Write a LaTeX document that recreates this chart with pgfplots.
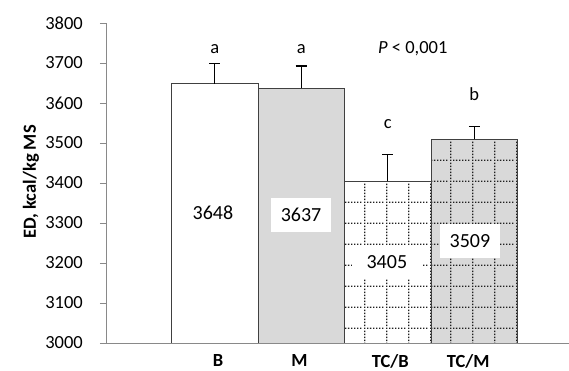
\documentclass[border=0pt]{standalone}
\usepackage{pgfplots}
\pgfplotsset{compat=1.18}
\usepackage{fontspec}
\setmainfont{Carlito}
\usetikzlibrary{patterns}
\definecolor{axisgray}{HTML}{898989}
\definecolor{barfill}{HTML}{D9D9D9}
\definecolor{edgecol}{HTML}{404040}
\definecolor{dotcol}{HTML}{202020}
\pgfdeclarepatternformonly{dotgrid}{\pgfpointorigin}{\pgfpoint{21.4bp}{21.4bp}}{\pgfpoint{21.4bp}{21.4bp}}{%
  \pgfpathrectangle{\pgfpoint{0bp}{0bp}}{\pgfpoint{1.5bp}{1.5bp}}%
  \pgfpathrectangle{\pgfpoint{3.06bp}{0bp}}{\pgfpoint{1.5bp}{1.5bp}}%
  \pgfpathrectangle{\pgfpoint{6.11bp}{0bp}}{\pgfpoint{1.5bp}{1.5bp}}%
  \pgfpathrectangle{\pgfpoint{9.17bp}{0bp}}{\pgfpoint{1.5bp}{1.5bp}}%
  \pgfpathrectangle{\pgfpoint{12.23bp}{0bp}}{\pgfpoint{1.5bp}{1.5bp}}%
  \pgfpathrectangle{\pgfpoint{15.29bp}{0bp}}{\pgfpoint{1.5bp}{1.5bp}}%
  \pgfpathrectangle{\pgfpoint{18.34bp}{0bp}}{\pgfpoint{1.5bp}{1.5bp}}%
  \pgfpathrectangle{\pgfpoint{0bp}{3.06bp}}{\pgfpoint{1.5bp}{1.5bp}}%
  \pgfpathrectangle{\pgfpoint{0bp}{6.11bp}}{\pgfpoint{1.5bp}{1.5bp}}%
  \pgfpathrectangle{\pgfpoint{0bp}{9.17bp}}{\pgfpoint{1.5bp}{1.5bp}}%
  \pgfpathrectangle{\pgfpoint{0bp}{12.23bp}}{\pgfpoint{1.5bp}{1.5bp}}%
  \pgfpathrectangle{\pgfpoint{0bp}{15.29bp}}{\pgfpoint{1.5bp}{1.5bp}}%
  \pgfpathrectangle{\pgfpoint{0bp}{18.34bp}}{\pgfpoint{1.5bp}{1.5bp}}%
  \pgfusepath{fill}%
}
\newcommand{\tf}{\fontsize{18.5bp}{22bp}\selectfont}
\newcommand{\vf}{\fontsize{20bp}{24bp}\selectfont}
\begin{document}
\begin{tikzpicture}
\begin{axis}[
  scale only axis, width=462bp, height=320bp,
  xmin=-1.245, xmax=4.095, ymin=3000, ymax=3800,
  axis lines*=left,
  axis line style={draw=axisgray, line width=1bp},
  ytick={3000,3100,...,3800},
  xtick={0.04,0.98,2.03,2.93},
  xticklabels={B,M,TC/B,TC/M},
  /pgf/number format/assume math mode=true,
  /pgf/number format/1000 sep={},
  tick align=outside,
  major tick length=7bp,
  y tick style={draw=axisgray, line width=1bp},
  x tick style={draw=none},
  yticklabel style={font=\tf, anchor=east, inner sep=0pt, xshift=-17bp},
  xticklabel style={font=\tf\bfseries, anchor=center, inner sep=0pt, yshift=-11bp},
  every axis plot/.append style={ybar, bar width=1, bar shift=0pt, line width=0.9bp,
    error bars/y dir=plus, error bars/y explicit,
    error bars/error mark=|,
    error bars/error bar style={black, line width=1.4bp},
    error bars/error mark options={black, line width=1.4bp, mark size=5.5bp}},
]
\addplot[fill=white, draw=edgecol] coordinates {(0,3648) +- (0,51)};
\addplot[fill=barfill, draw=edgecol] coordinates {(1,3637) +- (0,56)};
\addplot[fill=white, draw=edgecol, postaction={pattern=dotgrid, pattern color=dotcol}] coordinates {(2,3405) +- (0,67)};
\addplot[fill=barfill, draw=edgecol, postaction={pattern=dotgrid, pattern color=dotcol}] coordinates {(3,3509) +- (0,32)};
\node[font=\tf] at (axis cs:0,3735) {a};
\node[font=\tf] at (axis cs:1,3735) {a};
\node[font=\tf] at (axis cs:2,3548) {c};
\node[font=\tf] at (axis cs:3,3622) {b};
\node[font=\tf] at (axis cs:2.29,3735) {\textit{P} < 0,001};
\node[font=\vf] at (axis cs:-0.02,3325) {3648};
\node[font=\vf, fill=white, inner sep=0pt, minimum width=60bp, minimum height=34bp] at (axis cs:0.998,3320) {3637};
\node[font=\vf, fill=white, inner sep=0pt, minimum width=70bp, minimum height=33bp] at (axis cs:1.99,3202) {3405};
\node[font=\vf, fill=white, inner sep=0pt, minimum width=60bp, minimum height=34bp] at (axis cs:2.95,3255) {3509};
\end{axis}
\node[font=\tf\bfseries, rotate=90] at ([xshift=-76bp, yshift=161bp]current axis.south west) {ED, kcal/kg MS};
\pgfresetboundingbox
\path (current axis.south west) ++(-107bp,-28bp) rectangle ++(569bp,371bp);
\end{tikzpicture}
\end{document}
